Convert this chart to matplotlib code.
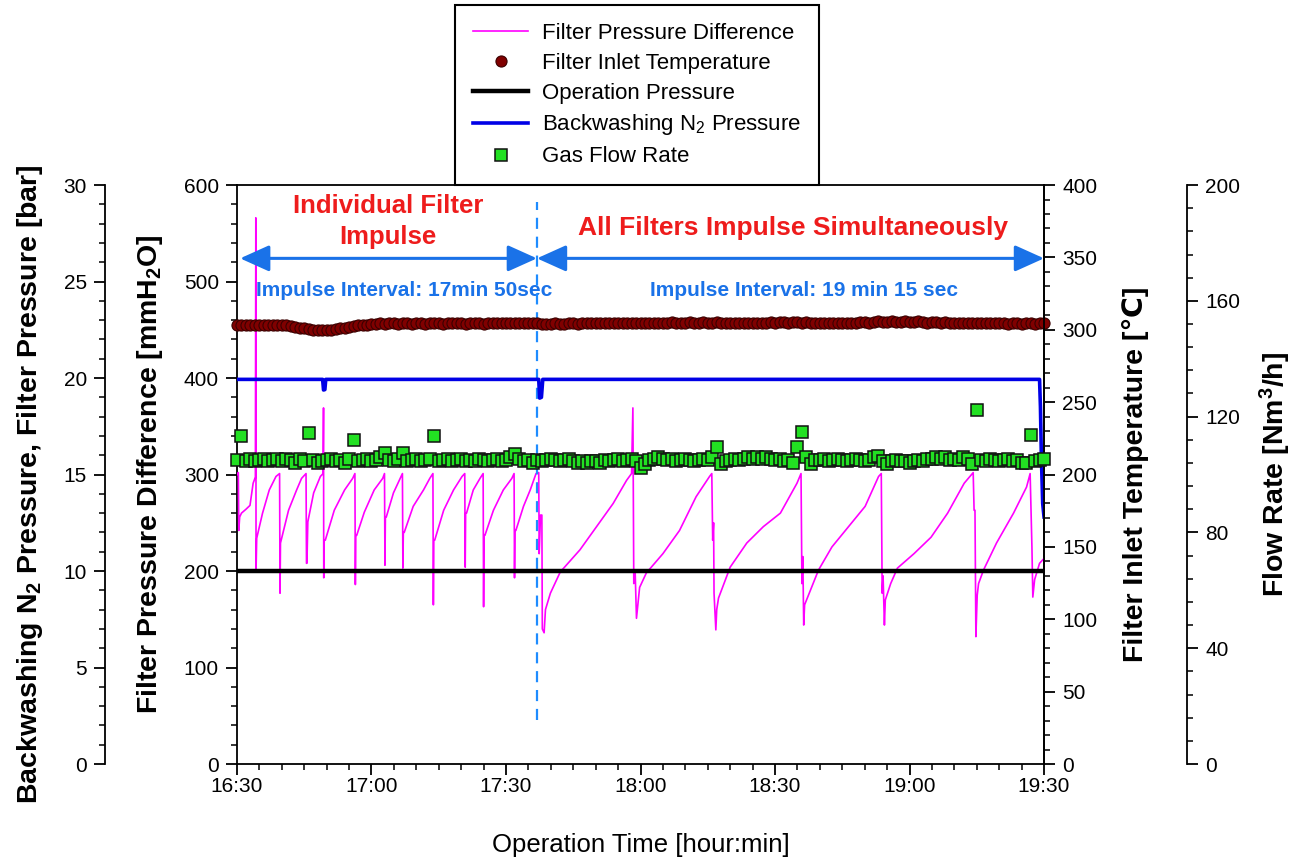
"""
Ceramic filter operation test - pressure drop, temperature, N2 backwash pressure
and gas flow over 16:30-19:30, four y axes on one time axis.
"""

import numpy as np
import matplotlib
matplotlib.use("Agg")
import matplotlib.pyplot as plt
from matplotlib.ticker import MultipleLocator

plt.rcParams.update({
    "font.family": ["Liberation Sans", "DejaVu Sans"],
    "mathtext.fontset": "custom",
    "mathtext.rm": "Liberation Sans",
    "mathtext.bf": "Liberation Sans:bold",
    "mathtext.default": "regular",
})

# ── Time axis (minutes after 16:30) ──────────────────────────────────────────
TIME_TICKS  = [0, 30, 60, 90, 120, 150, 180]
TIME_LABELS = ["16:30", "17:00", "17:30", "18:00", "18:30", "19:00", "19:30"]
PHASE_SPLIT = 66.9          # switch from individual to simultaneous impulse

# ── Filter pressure difference [mmH2O] (line vertices) ───────────────────────
DP_TIME = [
    0.0, 0.3, 0.4, 0.6, 1.0, 2.0, 2.9, 3.6, 4.0, 4.1, 4.2, 4.25, 4.4,
    5.7, 7.2, 8.7, 9.5, 9.6, 9.7,
    11.5, 13.3, 14.4, 15.4, 15.5, 15.6, 15.8,
    17.1, 18.6, 19.2, 19.3, 19.35, 19.45, 19.7,
    21.7, 24.0, 25.8, 26.3, 26.4, 26.5, 26.7,
    28.4, 30.6, 32.5, 32.9, 33.0, 33.1, 33.3,
    34.9, 36.4, 36.9, 37.0, 37.1, 37.3,
    39.3, 41.6, 43.0, 43.7, 43.8, 43.9, 44.1,
    46.1, 48.3, 50.2, 50.8, 50.9, 51.0, 51.2,
    52.7, 54.2, 54.9, 55.0, 55.1, 55.3,
    57.2, 59.4, 61.3, 61.8, 61.9, 62.0, 62.2,
    63.9, 65.4, 66.7, 67.3, 67.4, 67.7, 68.0, 68.1, 68.5, 68.8,
    69.9, 72.1, 76.5, 80.2, 83.9, 86.9, 88.0, 88.3, 88.5, 88.8, 89.1, 89.3, 89.8,
    91.3, 95.0, 98.7, 102.4, 105.4, 105.9, 106.1, 106.3, 106.4, 106.8, 107.0, 107.4,
    110.0, 113.7, 117.4, 121.2, 124.9, 125.8, 126.0, 126.2, 126.4, 126.6, 127.9,
    129.7, 132.7, 136.4, 140.1, 143.1, 143.7, 143.9, 144.1, 144.4, 144.6, 145.8,
    147.3, 151.0, 154.8, 158.5, 162.2, 164.2, 164.4, 164.6, 164.8, 165.1, 165.4,
    166.5, 169.4, 173.2, 176.1, 176.9, 177.3, 177.5, 177.9, 179.0, 180.0,
]
DP_VALUE = [
    300, 302, 242, 256, 260, 264, 268, 291, 296, 296, 566, 201, 234,
    260, 284, 298, 301, 177, 229,
    263, 284, 296, 301, 208, 208, 251,
    281, 298, 301, 369, 193, 232, 232,
    263, 284, 296, 301, 186, 237, 237,
    261, 284, 296, 301, 206, 256, 256,
    281, 296, 301, 203, 240, 240,
    267, 284, 296, 301, 165, 232, 232,
    263, 284, 298, 301, 204, 260, 260,
    284, 296, 301, 163, 237, 237,
    263, 284, 296, 301, 193, 242, 242,
    267, 284, 301, 302, 218, 258, 258, 140, 136, 160,
    177, 199, 222, 246, 270, 294, 301, 369, 187, 200, 151, 160, 183,
    198, 218, 242, 277, 298, 301, 232, 250, 177, 139, 160, 172,
    204, 229, 246, 260, 291, 301, 187, 215, 144, 165, 180,
    201, 225, 246, 267, 298, 301, 177, 195, 144, 170, 187,
    203, 218, 235, 260, 291, 302, 263, 263, 132, 175, 187,
    201, 229, 260, 287, 301, 225, 173, 191, 208, 213,
]

# ── Operation (filter) pressure [bar] ────────────────────────────────────────
OP_TIME  = [0, 180]
OP_VALUE = [10.0, 10.0]

# ── Backwashing N2 pressure [bar] (line vertices) ────────────────────────────
BW_TIME  = [0, 19.1, 19.3, 19.6, 19.8, 67.3, 67.5, 67.9, 68.2,
            179.0, 179.2, 179.4, 179.7, 180.0]
BW_VALUE = [19.93, 19.93, 19.38, 19.4, 19.93, 19.93, 18.96, 19.0, 19.93,
            19.93, 18.5, 16.0, 13.5, 12.8]

# ── Filter inlet temperature [degC], one sample per minute ───────────────────
TEMP_VALUE = [
    303.5, 303.5, 303.0, 303.5, 303.5, 303.5, 303.0, 303.5, 303.5, 303.5,
    303.5, 303.0, 302.5, 302.0, 301.5, 301.0, 300.5, 300.0, 300.0, 299.5,
    300.0, 300.0, 300.5, 301.0, 301.5, 302.0, 302.5, 303.0, 303.5, 303.5,
    304.0, 304.0, 304.5, 304.0, 304.5, 304.5, 304.0, 304.5, 304.5, 304.0,
    304.5, 304.5, 304.0, 304.5, 304.5, 304.5, 304.0, 304.5, 304.5, 304.5,
    304.5, 304.0, 304.5, 304.5, 304.5, 304.0, 304.5, 304.5, 305.0, 304.5,
    304.5, 304.5, 305.0, 304.5, 304.5, 305.0, 305.0, 304.5, 304.0, 304.0,
    304.0, 304.5, 304.0, 304.0, 304.5, 304.5, 304.0, 304.5, 304.5, 304.5,
    304.5, 305.0, 304.5, 304.5, 305.0, 304.5, 304.5, 305.0, 304.5, 305.0,
    305.0, 304.5, 305.0, 305.0, 304.5, 305.0, 305.0, 305.5, 305.0, 305.0,
    305.0, 305.5, 305.0, 305.0, 305.5, 305.0, 305.0, 305.5, 305.0, 305.0,
    305.0, 305.0, 304.5, 305.0, 305.0, 304.5, 305.0, 305.0, 305.0, 305.5,
    305.0, 305.5, 305.5, 305.0, 305.5, 305.5, 305.0, 305.5, 305.0, 305.0,
    305.0, 305.0, 304.5, 305.0, 305.0, 305.0, 304.5, 305.0, 305.0, 305.5,
    305.5, 305.0, 305.5, 306.0, 305.5, 305.5, 306.0, 305.5, 305.5, 306.0,
    305.5, 305.5, 306.0, 305.5, 305.0, 305.5, 305.5, 305.0, 305.5, 305.0,
    305.0, 305.0, 304.5, 305.0, 304.5, 304.5, 305.0, 304.5, 304.5, 304.5,
    304.5, 304.5, 304.0, 304.5, 304.5, 304.0, 304.5, 304.5, 304.0, 304.5,
    304.5,
]

# ── Gas flow rate [Nm3/h], one sample per minute ─────────────────────────────
FLOW_VALUE = [
    105.0, 113.3, 104.5, 105.5, 104.5, 105.0, 105.5, 104.5, 105.0, 105.5,
    104.5, 105.5, 105.0, 104.0, 105.5, 104.5, 114.4, 105.0, 104.0, 104.5,
    105.0, 105.5, 104.5, 105.0, 104.0, 105.5, 112.0, 104.5, 105.0, 105.5,
    104.5, 105.0, 106.0, 107.4, 105.0, 104.5, 105.5, 107.5, 104.5, 105.0,
    105.5, 104.5, 105.0, 105.5, 113.3, 104.5, 105.0, 105.5, 104.5, 105.0,
    105.5, 104.5, 105.0, 104.5, 105.5, 105.0, 104.5, 105.0, 105.5, 104.5,
    105.0, 106.0, 107.0, 105.5, 104.5, 105.0, 104.0, 105.0, 104.5, 105.0,
    105.5, 105.0, 104.5, 105.0, 105.5, 104.5, 104.0, 104.5, 104.0, 104.5,
    104.5, 104.0, 105.0, 104.5, 105.0, 105.5, 104.5, 105.0, 105.5, 104.5,
    102.2, 103.5, 105.0, 105.5, 106.0, 105.5, 105.0, 105.5, 104.5, 105.0,
    105.5, 105.0, 104.5, 105.0, 105.5, 105.0, 106.0, 109.5, 103.5, 104.5,
    105.0, 105.5, 105.0, 105.5, 106.0, 105.5, 106.0, 105.5, 106.0, 105.5,
    105.0, 105.5, 104.5, 105.0, 104.0, 109.5, 114.7, 106.0, 103.5, 105.0,
    105.0, 105.5, 104.5, 105.0, 105.5, 105.0, 104.5, 105.0, 105.5, 105.0,
    104.5, 105.0, 106.0, 106.5, 104.5, 103.5, 104.5, 105.0, 104.5, 104.5,
    104.0, 104.5, 105.0, 104.5, 105.5, 105.5, 106.0, 105.5, 106.0, 105.0,
    105.5, 105.0, 106.0, 105.5, 103.5, 122.3, 105.0, 104.5, 105.5, 105.0,
    104.5, 105.0, 105.5, 104.5, 105.0, 104.0, 104.0, 113.6, 104.5, 105.0,
    105.4,
]
SAMPLE_TIME = np.arange(len(TEMP_VALUE))      # minutes, 1-min logging

# ── Colours ──────────────────────────────────────────────────────────────────
C_DP    = "#ff00ff"
C_TEMP  = "#800000"
C_BW    = "#0000e6"
C_FLOW  = "#22e022"
C_RED   = "#ee1c1c"
C_NOTE  = "#1a72e8"
C_SPLIT = "#1e8cff"

TICK_KW   = dict(width=1.3, labelsize=15)
LABEL_KW  = dict(fontsize=20.5, fontweight="bold")

# ── Figure / axes ────────────────────────────────────────────────────────────
fig = plt.figure(figsize=(13, 8.63), dpi=100)
ax   = fig.add_axes([0.1823, 0.1147, 0.6208, 0.6709])   # mmH2O
ax_b = ax.twinx()                                       # bar (outer left)
ax_t = ax.twinx()                                       # temperature (right)
ax_f = ax.twinx()                                       # flow (outer right)

# pressure difference
l_dp, = ax.plot(DP_TIME, DP_VALUE, color=C_DP, lw=1.2, zorder=3)

# operation + backwash pressure
l_op, = ax_b.plot(OP_TIME, OP_VALUE, color="black", lw=3.2, zorder=2)
l_bw, = ax_b.plot(BW_TIME, BW_VALUE, color=C_BW, lw=2.6, zorder=3)

# temperature
l_t, = ax_t.plot(SAMPLE_TIME, TEMP_VALUE, ls="none", marker="o", ms=8,
                 mfc=C_TEMP, mec="#3a0000", mew=0.8, clip_on=False)

# flow
l_f, = ax_f.plot(SAMPLE_TIME, FLOW_VALUE, ls="none", marker="s", ms=8.5,
                 mfc=C_FLOW, mec="#111111", mew=1.1, clip_on=False)

# ── Axis ranges / ticks ──────────────────────────────────────────────────────
ax.set_xlim(0, 180)
ax.set_ylim(0, 600)
ax_b.set_ylim(0, 30)
ax_t.set_ylim(0, 400)
ax_f.set_ylim(0, 200)

ax.set_xticks(TIME_TICKS)
ax.set_xticklabels(TIME_LABELS)
ax.xaxis.set_minor_locator(MultipleLocator(5))
ax.yaxis.set_major_locator(MultipleLocator(100))
ax.yaxis.set_minor_locator(MultipleLocator(20))
ax_b.yaxis.set_major_locator(MultipleLocator(5))
ax_b.yaxis.set_minor_locator(MultipleLocator(1))
ax_t.yaxis.set_major_locator(MultipleLocator(50))
ax_t.yaxis.set_minor_locator(MultipleLocator(10))
ax_f.yaxis.set_major_locator(MultipleLocator(40))
ax_f.yaxis.set_minor_locator(MultipleLocator(8))

for a in (ax, ax_b, ax_t, ax_f):
    a.tick_params(which="major", length=8, pad=5, **TICK_KW)
    a.tick_params(which="minor", length=4.5, width=1.1)
    for s in a.spines.values():
        s.set_linewidth(1.3)
ax.tick_params(axis="x", labelsize=15, pad=1)

# outer-left bar axis
ax_b.yaxis.tick_left()
ax_b.yaxis.set_label_position("left")
ax_b.spines["left"].set_position(("axes", -0.1636))
ax_b.spines["left"].set_visible(True)
for s in ("right", "top", "bottom"):
    ax_b.spines[s].set_visible(False)

# right temperature axis sits on the main frame
for s in ("left", "top", "bottom"):
    ax_t.spines[s].set_visible(False)

# outer-right flow axis
ax_f.spines["right"].set_position(("axes", 1.1772))
for s in ("left", "top", "bottom"):
    ax_f.spines[s].set_visible(False)

# ── Axis labels ──────────────────────────────────────────────────────────────
ax.set_xlabel("Operation Time [hour:min]", fontsize=18.5, labelpad=27)
ax.set_ylabel(r"Filter Pressure Difference [mmH$_\mathbf{2}$O]", **LABEL_KW)
ax_b.set_ylabel(r"Backwashing N$_\mathbf{2}$ Pressure, Filter Pressure [bar]", **LABEL_KW)
ax_t.set_ylabel("Filter Inlet Temperature [\u2103]", **LABEL_KW)
ax_f.set_ylabel(r"Flow Rate [Nm$^\mathbf{3}$/h]", **LABEL_KW)

ax.yaxis.set_label_coords(-0.1078, 0.5)
ax_b.yaxis.set_label_coords(-0.2565, 0.483)
ax_t.yaxis.set_label_coords(1.1128, 0.5)
ax_f.yaxis.set_label_coords(1.2862, 0.5)
for a in (ax, ax_b, ax_t, ax_f):
    a.yaxis.label.set_va("center")

# ── Annotations ──────────────────────────────────────────────────────────────
ax.plot([PHASE_SPLIT, PHASE_SPLIT], [46, 582], color=C_SPLIT, lw=1.6,
        ls=(0, (5, 3.5)), zorder=4)

arrow_kw = dict(arrowstyle="<|-|>,head_length=1.0,head_width=0.45",
                color=C_NOTE, lw=2.2, mutation_scale=18,
                shrinkA=0, shrinkB=0)
ax.annotate("", xy=(0.7, 524), xytext=(PHASE_SPLIT, 524), arrowprops=arrow_kw)
ax.annotate("", xy=(PHASE_SPLIT, 524), xytext=(180, 524), arrowprops=arrow_kw)

ax.text(33.7, 562, "Individual Filter\nImpulse", ha="center", va="center",
        color=C_RED, fontsize=18.5, fontweight="bold", linespacing=1.35)
ax.text(124.0, 555, "All Filters Impulse Simultaneously", ha="center",
        va="center", color=C_RED, fontsize=19, fontweight="bold")
ax.text(37.3, 491, "Impulse Interval: 17min 50sec", ha="center", va="center",
        color=C_NOTE, fontsize=15, fontweight="bold")
ax.text(126.4, 491, "Impulse Interval: 19 min 15 sec", ha="center",
        va="center", color=C_NOTE, fontsize=15, fontweight="bold")

# ── Legend ───────────────────────────────────────────────────────────────────
leg = fig.legend(
    [l_dp, l_t, l_op, l_bw, l_f],
    ["Filter Pressure Difference", "Filter Inlet Temperature",
     "Operation Pressure", r"Backwashing N$_2$ Pressure", "Gas Flow Rate"],
    loc="upper left", bbox_to_anchor=(455 / 1300, 1 - 5 / 863),
    fontsize=16, frameon=True, fancybox=False, edgecolor="black",
    framealpha=1, borderpad=0.8, handlelength=2.5, handletextpad=0.6,
    labelspacing=0.4, borderaxespad=0, numpoints=1,
)
leg.get_frame().set_linewidth(1.5)

fig.savefig("out.png", dpi=100)
